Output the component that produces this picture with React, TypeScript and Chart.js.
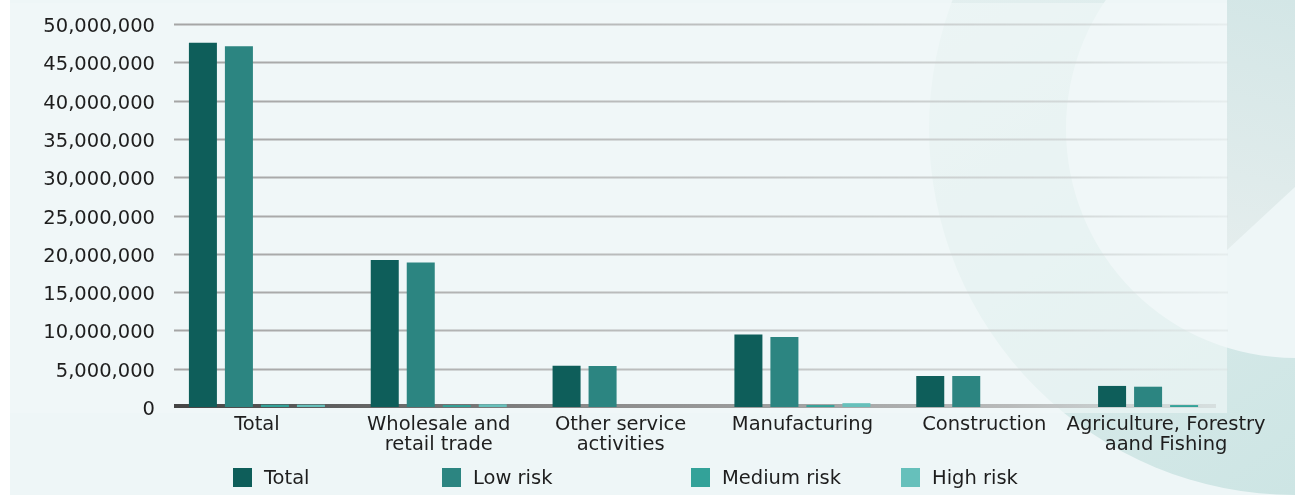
import React, { useEffect, useRef } from "react";
import { Chart, registerables } from "chart.js";

Chart.register(...registerables);

const categories: string[][] = [
  ["Total"],
  ["Wholesale and", "retail trade"],
  ["Other service", "activities"],
  ["Manufacturing"],
  ["Construction"],
  ["Agriculture, Forestry", "aand Fishing"],
];

const seriesNames = ["Total", "Low risk", "Medium risk", "High risk"];
const totalValues = [47550000, 19200000, 5400000, 9450000, 4050000, 2750000];
const lowRiskValues = [47100000, 18850000, 5350000, 9150000, 4050000, 2650000];
const mediumRiskValues = [300000, 250000, 0, 250000, 0, 250000];
const highRiskValues = [300000, 350000, 0, 500000, 0, 0];
const seriesColors = ["#0e5e5a", "#2c8581", "#33a299", "#66c0bb"];

const yMax = 50000000;
const yStep = 5000000;

const FONT = '"DejaVu Sans", sans-serif';
const FONT_SIZE = 19.5;
const W = 1295;
const H = 495;
const legendLefts = [233, 442, 691, 901];
const BG = "#eef6f7";

const decorPlugin = {
  id: "decor",
  beforeDraw(chart: any) {
    const ctx = chart.ctx as CanvasRenderingContext2D;
    ctx.save();
    ctx.fillStyle = "#ffffff";
    ctx.fillRect(0, 0, W, H);
    ctx.fillStyle = BG;
    ctx.fillRect(10, 0, W - 10, H);
    // ring: outer disk then inner hole
    const g = ctx.createLinearGradient(930, 0, 1295, 495);
    g.addColorStop(0, "#e3efef");
    g.addColorStop(1, "#cde5e4");
    ctx.beginPath();
    ctx.arc(1295, 129, 366, 0, Math.PI * 2);
    ctx.closePath();
    ctx.fillStyle = g;
    ctx.fill();
    ctx.beginPath();
    ctx.arc(1295, 129, 229, 0, Math.PI * 2);
    ctx.closePath();
    ctx.fillStyle = BG;
    ctx.fill();
    // top-right shape
    const g2 = ctx.createLinearGradient(1227, 250, 1295, 0);
    g2.addColorStop(0, "#e4eded");
    g2.addColorStop(1, "#d3e6e6");
    ctx.beginPath();
    ctx.moveTo(1227, 0);
    ctx.lineTo(1295, 0);
    ctx.lineTo(1295, 187);
    ctx.lineTo(1227, 250);
    ctx.closePath();
    ctx.fillStyle = g2;
    ctx.fill();
    // translucent panel
    ctx.fillStyle = "rgba(242,249,249,0.6)";
    ctx.fillRect(10, 3, 1217, 410);
    ctx.restore();
  },
  beforeDatasetsDraw(chart: any) {
    const ctx = chart.ctx as CanvasRenderingContext2D;
    const ys = chart.scales.y;
    const area = chart.chartArea;
    const x0 = area.left + 8;
    const x1 = area.right - 29;
    ctx.save();
    const gg = ctx.createLinearGradient(x0, 0, x1, 0);
    gg.addColorStop(0, "rgba(165,165,165,1)");
    gg.addColorStop(0.5, "rgba(190,192,192,1)");
    gg.addColorStop(0.85, "rgba(205,210,210,0.8)");
    gg.addColorStop(1, "rgba(215,222,222,0.4)");
    ctx.strokeStyle = gg;
    ctx.lineWidth = 2;
    ys.ticks.forEach((t: any) => {
      if (t.value === 0) return;
      const y = Math.round(ys.getPixelForValue(t.value)) + 0.5;
      ctx.beginPath();
      ctx.moveTo(x0, y);
      ctx.lineTo(x1, y);
      ctx.stroke();
    });
    const yb = ys.getPixelForValue(0) - 1;
    const bg = ctx.createLinearGradient(x0, 0, x1 - 12, 0);
    bg.addColorStop(0, "#444444");
    bg.addColorStop(0.4, "#8a8a8a");
    bg.addColorStop(0.8, "#b8baba");
    bg.addColorStop(1, "rgba(200,205,205,0.5)");
    ctx.strokeStyle = bg;
    ctx.lineWidth = 4;
    ctx.beginPath();
    ctx.moveTo(x0, yb);
    ctx.lineTo(x1 - 12, yb);
    ctx.stroke();
    ctx.restore();
  },
};

export default function App() {
  const canvasRef = useRef<HTMLCanvasElement | null>(null);

  useEffect(() => {
    if (!canvasRef.current) return;
    const seriesValues = [totalValues, lowRiskValues, mediumRiskValues, highRiskValues];
    const chart = new Chart(canvasRef.current, {
      type: "bar",
      data: {
        labels: categories,
        datasets: seriesNames.map((name, i) => ({
          label: name,
          data: seriesValues[i],
          backgroundColor: seriesColors[i],
          borderWidth: 0,
          categoryPercentage: 0.792,
          barPercentage: 0.778,
        })),
      },
      options: {
        animation: false,
        responsive: false,
        devicePixelRatio: 1,
        layout: { padding: { top: 24, right: 38, bottom: 0, left: 0 } },
        plugins: {
          legend: { display: false },
          tooltip: { enabled: false },
        },
        scales: {
          x: {
            grid: { display: false, drawTicks: false },
            border: { display: false },
            ticks: {
              autoSkip: false,
              maxRotation: 0,
              padding: 8,
              color: "#1e1e1e",
              font: { family: FONT, size: FONT_SIZE, lineHeight: 1.03 },
            },
            afterFit: (s: any) => {
              s.height = 88;
            },
          },
          y: {
            min: 0,
            max: yMax,
            grid: { display: false, drawTicks: false },
            border: { display: false },
            ticks: {
              stepSize: yStep,
              padding: 11,
              labelOffset: 3,
              color: "#1e1e1e",
              font: { family: FONT, size: FONT_SIZE },
              callback: (v: any) => Number(v).toLocaleString("en-US"),
            },
            afterFit: (s: any) => {
              s.width = 166;
            },
          },
        },
      },
      plugins: [decorPlugin],
    });
    return () => chart.destroy();
  }, []);

  return (
    <div style={{ position: "absolute", left: 0, top: 0, width: W, height: H, overflow: "hidden" }}>
      <canvas ref={canvasRef} width={W} height={H} style={{ display: "block", width: W, height: H }} />
      {seriesNames.map((name, i) => (
        <div
          key={name}
          style={{
            position: "absolute",
            left: legendLefts[i],
            top: 468,
            height: 19,
            display: "flex",
            alignItems: "center",
            fontFamily: FONT,
            fontSize: FONT_SIZE,
            color: "#1e1e1e",
            whiteSpace: "nowrap",
          }}
        >
          <span style={{ display: "inline-block", width: 19, height: 19, background: seriesColors[i], marginRight: 12 }} />
          <span>{name}</span>
        </div>
      ))}
    </div>
  );
}
